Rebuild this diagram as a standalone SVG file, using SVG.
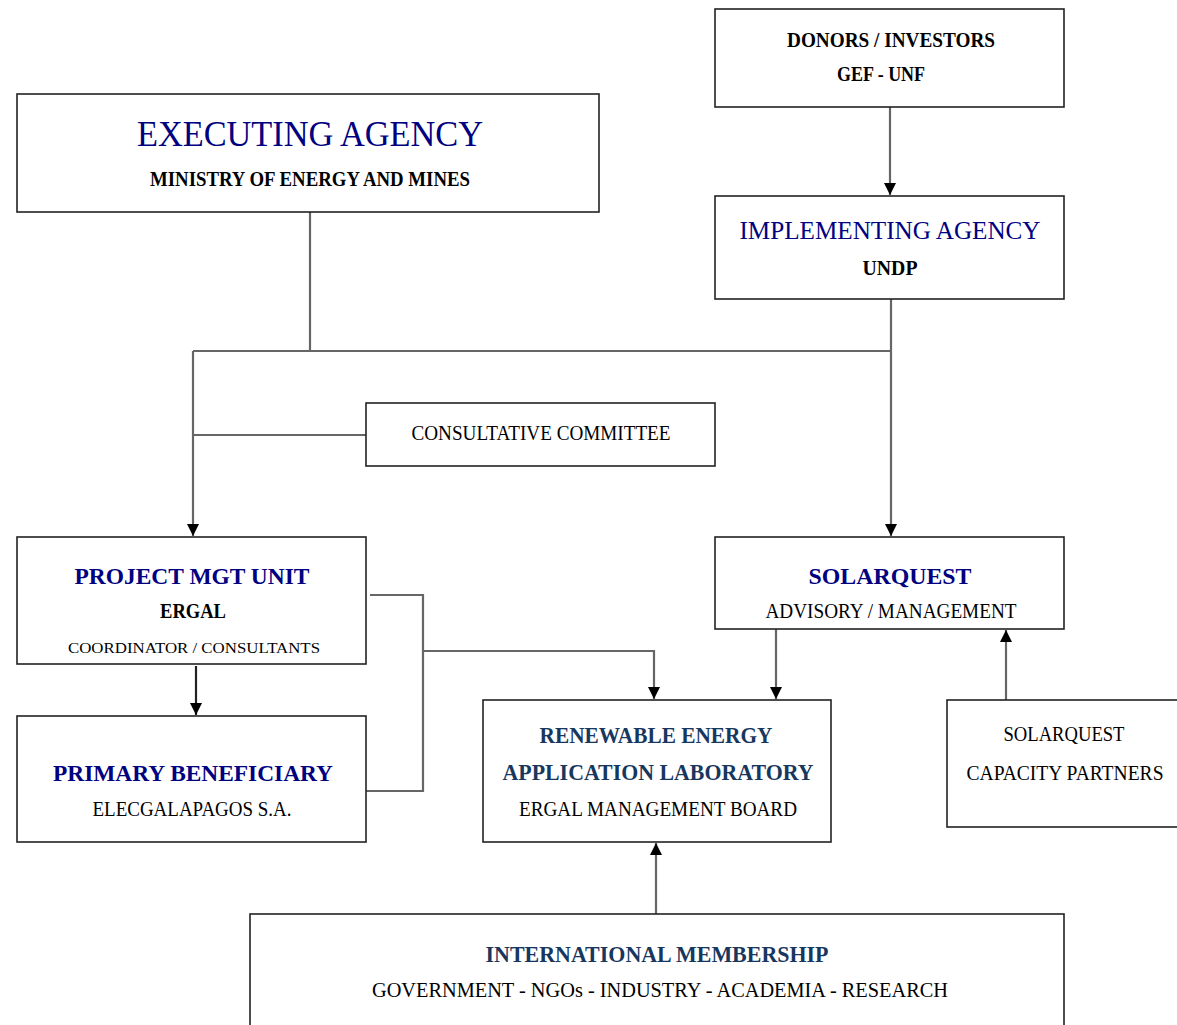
<svg xmlns="http://www.w3.org/2000/svg" width="1177" height="1025" viewBox="0 0 1177 1025">
<style>
.box{fill:#fff;stroke:#222;stroke-width:1.6}
.c{fill:none;stroke:#666;stroke-width:2.2}
text{font-family:"Liberation Serif","Times New Roman",serif;text-anchor:middle;fill:#000}
.nv{fill:#000080}
.db{fill:#17375E;font-weight:bold}
.b{font-weight:bold}
</style>
<defs>
<marker id="ah" viewBox="0 0 10 10" refX="10" refY="5" markerWidth="12" markerHeight="12" markerUnits="userSpaceOnUse" orient="auto">
<path d="M0,0 L10,5 L0,10 z" fill="#000"/>
</marker>
</defs>
<rect width="1177" height="1025" fill="#fff"/>
<g id="connectors">
<line class="c" x1="890" y1="107" x2="890" y2="195" marker-end="url(#ah)"/>
<line class="c" x1="310" y1="212" x2="310" y2="351"/>
<line class="c" x1="193" y1="351" x2="891" y2="351"/>
<line class="c" x1="891" y1="299" x2="891" y2="536" marker-end="url(#ah)"/>
<line class="c" x1="193" y1="351" x2="193" y2="536" marker-end="url(#ah)"/>
<line class="c" x1="193" y1="435" x2="366" y2="435"/>
<line class="c" x1="196" y1="666" x2="196" y2="715" marker-end="url(#ah)" style="stroke:#222"/>
<polyline class="c" points="370,595 423,595 423,791 366,791"/>
<polyline class="c" points="423,651 654,651 654,699" marker-end="url(#ah)"/>
<line class="c" x1="776" y1="629" x2="776" y2="699" marker-end="url(#ah)"/>
<line class="c" x1="1006" y1="700" x2="1006" y2="630" marker-end="url(#ah)"/>
<line class="c" x1="656" y1="914" x2="656" y2="843" marker-end="url(#ah)"/>
</g>
<g id="executing">
<rect class="box" x="17" y="94" width="582" height="118"/>
<text class="nv" x="310" y="146" font-size="36" textLength="346" lengthAdjust="spacingAndGlyphs">EXECUTING AGENCY</text>
<text class="b" x="310" y="186" font-size="20" textLength="320" lengthAdjust="spacingAndGlyphs">MINISTRY OF ENERGY AND MINES</text>
</g>
<g id="donors">
<rect class="box" x="715" y="9" width="349" height="98"/>
<text class="b" x="891" y="47" font-size="20" textLength="208" lengthAdjust="spacingAndGlyphs">DONORS / INVESTORS</text>
<text class="b" x="881" y="81" font-size="20" textLength="88" lengthAdjust="spacingAndGlyphs">GEF - UNF</text>
</g>
<g id="implementing">
<rect class="box" x="715" y="196" width="349" height="103"/>
<text class="nv" x="890" y="239" font-size="25" textLength="301" lengthAdjust="spacingAndGlyphs">IMPLEMENTING AGENCY</text>
<text class="b" x="890" y="275" font-size="20" textLength="55" lengthAdjust="spacingAndGlyphs">UNDP</text>
</g>
<g id="consultative">
<rect class="box" x="366" y="403" width="349" height="63"/>
<text x="541" y="440" font-size="20" textLength="259" lengthAdjust="spacingAndGlyphs">CONSULTATIVE COMMITTEE</text>
</g>
<g id="pmu">
<rect class="box" x="17" y="537" width="349" height="127"/>
<text class="nv b" x="192" y="584" font-size="24" textLength="235" lengthAdjust="spacingAndGlyphs">PROJECT MGT UNIT</text>
<text class="b" x="193" y="618" font-size="20" textLength="66" lengthAdjust="spacingAndGlyphs">ERGAL</text>
<text x="194" y="653" font-size="15" textLength="252" lengthAdjust="spacingAndGlyphs">COORDINATOR / CONSULTANTS</text>
</g>
<g id="primary">
<rect class="box" x="17" y="716" width="349" height="126"/>
<text class="nv b" x="193" y="781" font-size="24" textLength="280" lengthAdjust="spacingAndGlyphs">PRIMARY BENEFICIARY</text>
<text x="192" y="816" font-size="20" textLength="199" lengthAdjust="spacingAndGlyphs">ELECGALAPAGOS S.A.</text>
</g>
<g id="solarquest">
<rect class="box" x="715" y="537" width="349" height="92"/>
<text class="nv b" x="890" y="584" font-size="24" textLength="163" lengthAdjust="spacingAndGlyphs">SOLARQUEST</text>
<text x="891" y="618" font-size="20" textLength="251" lengthAdjust="spacingAndGlyphs">ADVISORY / MANAGEMENT</text>
</g>
<g id="reallab">
<rect class="box" x="483" y="700" width="348" height="142"/>
<text class="db" x="656" y="743" font-size="24" textLength="233" lengthAdjust="spacingAndGlyphs">RENEWABLE ENERGY</text>
<text class="db" x="658" y="780" font-size="24" textLength="311" lengthAdjust="spacingAndGlyphs">APPLICATION LABORATORY</text>
<text x="658" y="816" font-size="20" textLength="278" lengthAdjust="spacingAndGlyphs">ERGAL MANAGEMENT BOARD</text>
</g>
<g id="partners">
<rect class="box" x="947" y="700" width="240" height="127"/>
<text x="1064" y="741" font-size="20" textLength="121" lengthAdjust="spacingAndGlyphs">SOLARQUEST</text>
<text x="1065" y="780" font-size="20" textLength="197" lengthAdjust="spacingAndGlyphs">CAPACITY PARTNERS</text>
</g>
<g id="membership">
<rect class="box" x="250" y="914" width="814" height="130"/>
<text class="db" x="657" y="962" font-size="24" textLength="343" lengthAdjust="spacingAndGlyphs">INTERNATIONAL MEMBERSHIP</text>
<text x="660" y="997" font-size="20" textLength="576" lengthAdjust="spacingAndGlyphs">GOVERNMENT - NGOs - INDUSTRY - ACADEMIA - RESEARCH</text>
</g>
</svg>
